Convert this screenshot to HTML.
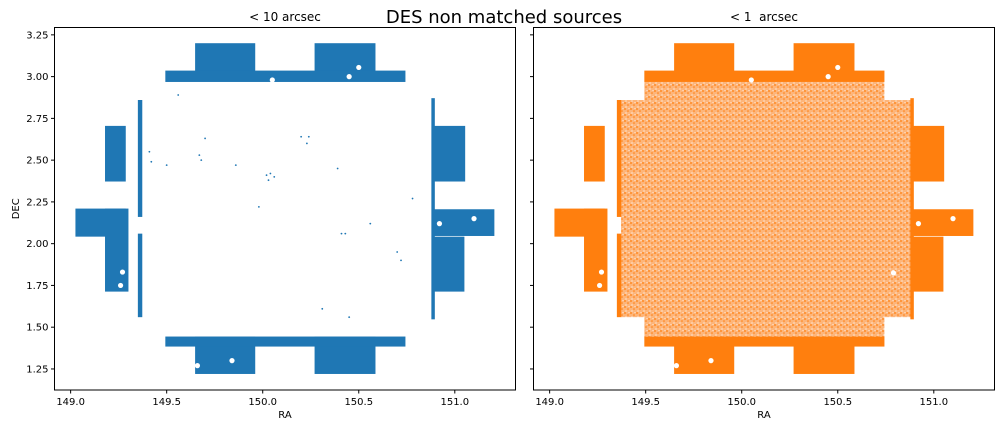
<!DOCTYPE html>
<html><head><meta charset="utf-8">
<style>
html,body{margin:0;padding:0;background:#fff;}
svg{display:block;font-family:"DejaVu Sans","Liberation Sans",sans-serif;}
</style></head>
<body>
<svg id="fig" width="1008" height="432" viewBox="0 0 1008 432" xmlns="http://www.w3.org/2000/svg">
<defs>
<pattern id="speck" width="6" height="6" patternUnits="userSpaceOnUse">
<rect width="6" height="6" fill="#fdb57a"/>
<circle cx="1" cy="1" r="0.9" fill="#ff7f0e"/>
<circle cx="4" cy="3" r="0.8" fill="#ff7f0e"/>
<circle cx="2" cy="5" r="0.6" fill="#fff"/>
<circle cx="5" cy="0.5" r="0.5" fill="#fff"/>
</pattern>
</defs>
<text x="504" y="23" font-size="18" text-anchor="middle" fill="#000">DES non matched sources</text>
</svg>
<script>
// Footprint tiles (RA min, RA max, DEC min, DEC max)
const tileRaMin  = [149.648,150.270,149.493,149.648,150.270,149.493,149.179,149.025,149.179,149.350,149.350,150.878,150.883,150.883,150.883];
const tileRaMax  = [149.961,150.587,150.743,149.961,150.587,150.743,149.287,149.287,149.301,149.373,149.373,150.896,151.054,151.206,151.050];
const tileDecMin = [3.030,3.030,2.968,1.220,1.220,1.384,2.372,2.042,1.713,2.160,1.560,1.547,2.372,2.046,1.713];
const tileDecMax = [3.200,3.200,3.036,1.444,1.444,1.444,2.705,2.210,2.210,2.860,2.060,2.871,2.705,2.206,2.042];
// Central deep field (only in <1 arcsec panel)
const fieldRaMin  = [149.372,149.493];
const fieldRaMax  = [150.879,150.743];
const fieldDecMin = [1.560,1.440];
const fieldDecMax = [2.860,2.968];
// Holes (masked stars)
const holeRa  = [150.50,150.45,149.84,149.66,149.26,150.92,151.10,149.27,150.79,150.05];
const holeDec = [3.055,3.00,1.30,1.27,1.75,2.12,2.15,1.83,1.825,2.98];
// Sparse points in <10 arcsec panel
const sparseRa  = [149.56,149.70,149.67,149.68,149.86,149.50,150.02,150.04,150.06,150.03,150.20,150.24,150.23,150.39,150.41,150.43,150.56,150.70,150.72,150.78,150.31,150.45,149.98,149.41,149.42];
const sparseDec = [2.89,2.63,2.53,2.50,2.47,2.47,2.41,2.42,2.40,2.38,2.64,2.64,2.60,2.45,2.06,2.06,2.12,1.95,1.90,2.27,1.61,1.56,2.22,2.55,2.49];
// Axis ticks
const xTicks = [149.0,149.5,150.0,150.5,151.0];
const xTickLabels = ["149.0","149.5","150.0","150.5","151.0"];
const yTicks = [1.25,1.50,1.75,2.00,2.25,2.50,2.75,3.00,3.25];
const yTickLabels = ["1.25","1.50","1.75","2.00","2.25","2.50","2.75","3.00","3.25"];
const panelTitles = ["< 10 arcsec","< 1\u00a0 arcsec"];
const colors = ["#1f77b4","#ff7f0e"];

const NS="http://www.w3.org/2000/svg";
const svg=document.getElementById('fig');
const xMin=148.916,xMax=151.316,yMin=1.124,yMax=3.294;
const panels=[{l:54.5,r:515.5},{l:533.5,r:994.5}];
const axTop=27.5,axBot=390;
function mk(tag,attrs,parent){const e=document.createElementNS(NS,tag);for(const k in attrs)e.setAttribute(k,attrs[k]);(parent||svg).appendChild(e);return e;}

panels.forEach((p,pi)=>{
  const sx=v=>p.l+(v-xMin)/(xMax-xMin)*(p.r-p.l);
  const sy=v=>axBot-(v-yMin)/(yMax-yMin)*(axBot-axTop);
  const g=mk('g',{});
  
  
  const col=colors[pi];
  if(pi===1){
    for(let i=0;i<fieldRaMin.length;i++){
      const r=mk('rect',{x:sx(fieldRaMin[i]),y:sy(fieldDecMax[i]),width:sx(fieldRaMax[i])-sx(fieldRaMin[i]),height:sy(fieldDecMin[i])-sy(fieldDecMax[i]),fill:'url(#speck)'},g);
      
      
    }
  }
  for(let i=0;i<tileRaMin.length;i++){
    const r=mk('rect',{x:sx(tileRaMin[i]),y:sy(tileDecMax[i]),width:sx(tileRaMax[i])-sx(tileRaMin[i]),height:sy(tileDecMin[i])-sy(tileDecMax[i]),fill:col},g);
    
    
  }
  for(let i=0;i<holeRa.length;i++){
    const c=mk('circle',{cx:sx(holeRa[i]),cy:sy(holeDec[i]),r:2.6,fill:'#fff'},g);
    
    
  }
  if(pi===0){
    for(let i=0;i<sparseRa.length;i++){
      const c=mk('circle',{cx:sx(sparseRa[i]),cy:sy(sparseDec[i]),r:0.9,fill:col},g);
      
      
    }
  }
  const frame=mk('rect',{x:p.l,y:axTop,width:p.r-p.l,height:axBot-axTop,fill:'none',stroke:'#000','stroke-width':1},g);
  
  
  xTicks.forEach((t,i)=>{
    const x=sx(t);
    mk('line',{x1:x,x2:x,y1:axBot,y2:axBot+3.5,stroke:'#000'},g);
    const tx=mk('text',{x:x,y:axBot+15,'font-size':10,'text-anchor':'middle'},g);
    tx.textContent=xTickLabels[i];
    
    
  });
  yTicks.forEach((t,i)=>{
    const y=sy(t);
    mk('line',{x1:p.l-3.5,x2:p.l,y1:y,y2:y,stroke:'#000'},g);
    if(pi===0){
      const ty=mk('text',{x:p.l-6,y:y+3.5,'font-size':10,'text-anchor':'end'},g);
      ty.textContent=yTickLabels[i];
      
      
    }
  });
  const xl=mk('text',{x:(p.l+p.r)/2,y:418,'font-size':10,'text-anchor':'middle'},g);
  xl.textContent='RA';
  
  
  if(pi===0){
    const yl=mk('text',{x:19,y:(axTop+axBot)/2,'font-size':10,'text-anchor':'middle',transform:'rotate(-90 19 '+((axTop+axBot)/2)+')'},g);
    yl.textContent='DEC';
    
    
  }
  const pt=mk('text',{x:(p.l+p.r)/2,y:21,'font-size':12,'text-anchor':'middle'},g);
  pt.textContent=panelTitles[pi];
  
  
});
</script>
</body></html>
